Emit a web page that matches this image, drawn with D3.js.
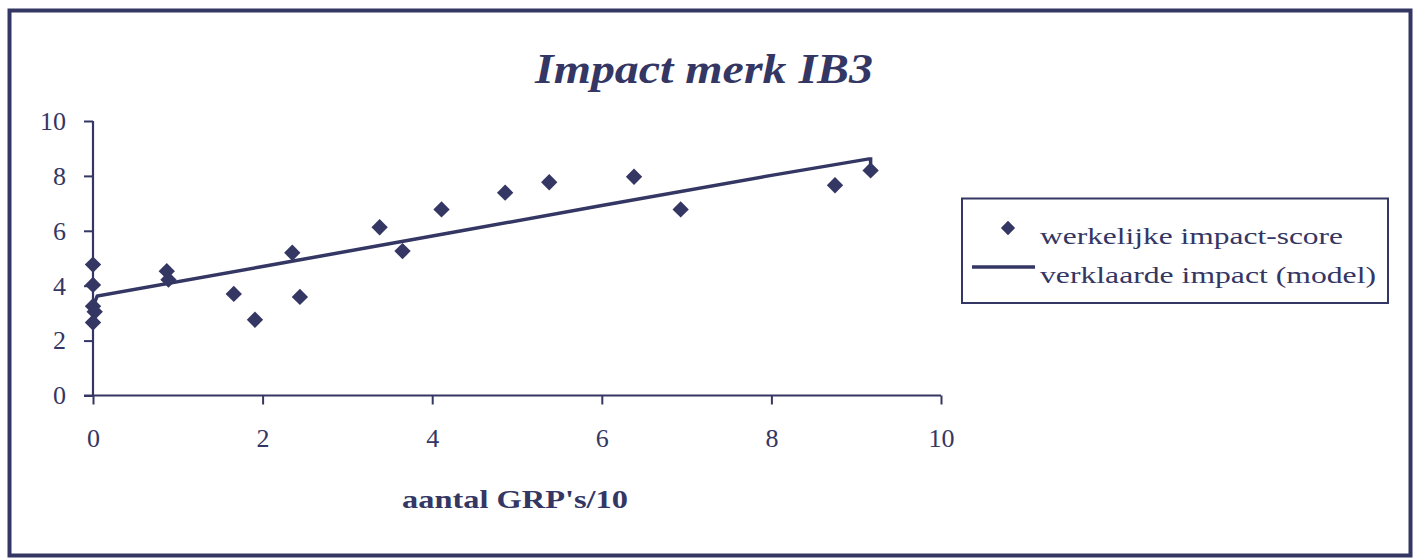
<!DOCTYPE html>
<html>
<head>
<meta charset="utf-8">
<script src="https://cdn.jsdelivr.net/npm/d3@7"></script>
<style>
  html, body { margin: 0; padding: 0; background: #fff; }
  svg { display: block; }
  text { font-family: "Liberation Serif", "Times New Roman", serif; fill: #343663; }
</style>
</head>
<body>
<svg id="chart" width="1413" height="558"></svg>
<script>
// ---- data ----
const grpX      = [0, 0, 0, 0.02, 0, 0.87, 0.89, 1.66, 1.91, 2.35, 2.44, 3.38, 3.65, 4.11, 4.86, 5.38, 6.38, 6.93, 8.75, 9.17];
const impactY   = [4.77, 4.03, 3.25, 3.05, 2.66, 4.53, 4.22, 3.70, 2.76, 5.20, 3.59, 6.13, 5.26, 6.78, 7.39, 7.77, 7.97, 6.78, 7.66, 8.20];
const modelX    = [0, 0.05, 2.0, 4.33, 6.0, 8.0, 9.15, 9.17, 9.17];
const modelY    = [3.25, 3.62, 4.70, 5.99, 6.92, 8.02, 8.62, 8.62, 8.42];
const xTicks    = [0, 2, 4, 6, 8, 10];
const yTicks    = [0, 2, 4, 6, 8, 10];
const titleText = "Impact merk IB3";
const xLabel    = "aantal GRP's/10";
const legendLabels = ["werkelijke impact-score", "verklaarde impact (model)"];

const navy = "#343663";
const svg = d3.select("#chart");

// outer frame
svg.append("rect").attr("x", 9.5).attr("y", 10.5).attr("width", 1401).attr("height", 545)
  .attr("fill", "#fff").attr("stroke", navy).attr("stroke-width", 4);

const x = d3.scaleLinear().domain([0, 10]).range([93, 941]);
const y = d3.scaleLinear().domain([0, 10]).range([395.5, 121]);

// title
svg.append("text").attr("x", 704).attr("y", 83).attr("text-anchor", "middle")
  .attr("font-size", 42).attr("font-weight", "bold").attr("font-style", "italic")
  .attr("textLength", 338).attr("lengthAdjust", "spacingAndGlyphs")
  .text(titleText);

// axes
const xAxis = svg.append("g").attr("transform", `translate(0,${y(0)})`)
  .call(d3.axisBottom(x).tickValues(xTicks).tickSize(9).tickPadding(24).tickFormat(d3.format("d")));
const yAxis = svg.append("g").attr("transform", `translate(${x(0)},0)`)
  .call(d3.axisLeft(y).tickValues(yTicks).tickSize(9).tickPadding(18).tickFormat(d3.format("d")));
[xAxis, yAxis].forEach(g => {
  g.select(".domain").attr("stroke", navy).attr("stroke-width", 2.2);
  g.selectAll(".tick line").attr("stroke", navy).attr("stroke-width", 2);
  g.selectAll(".tick text").attr("font-size", 26).attr("fill", navy)
    .style("font-family", '"Liberation Serif", serif');
});
xAxis.select(".domain").attr("d", `M${x(0) - 9},0H${x(10)}`);
yAxis.select(".domain").attr("d", `M0,${y(10)}V${y(0)}`);

// x label
svg.append("text").attr("x", 515).attr("y", 508).attr("text-anchor", "middle")
  .attr("font-size", 26).attr("font-weight", "bold")
  .attr("textLength", 226).attr("lengthAdjust", "spacingAndGlyphs")
  .text(xLabel);

// model line
const modelPts = modelX.map((d, i) => [d, modelY[i]]);
svg.append("path").datum(modelPts)
  .attr("d", d3.line().x(d => x(d[0])).y(d => y(d[1])))
  .attr("fill", "none").attr("stroke", navy).attr("stroke-width", 3.5)
  .attr("stroke-linejoin", "miter");

// points
const diamond = d3.symbol().type(d3.symbolDiamond2).size(170);
svg.append("g").selectAll("path")
  .data(grpX.map((d, i) => [d, impactY[i]]))
  .join("path")
  .attr("transform", d => `translate(${x(d[0])},${y(d[1])})`)
  .attr("d", diamond)
  .attr("fill", navy);

// legend
const lg = svg.append("g");
lg.append("rect").attr("x", 962).attr("y", 198.5).attr("width", 426).attr("height", 104.5)
  .attr("fill", "#fff").attr("stroke", navy).attr("stroke-width", 2);
lg.append("path").attr("transform", "translate(1008,228)")
  .attr("d", d3.symbol().type(d3.symbolDiamond2).size(130)).attr("fill", navy);
lg.append("line").attr("x1", 972).attr("x2", 1035).attr("y1", 267).attr("y2", 267)
  .attr("stroke", navy).attr("stroke-width", 3.5);
lg.append("text").attr("x", 1040).attr("y", 244).attr("font-size", 23)
  .attr("textLength", 303).attr("lengthAdjust", "spacingAndGlyphs").text(legendLabels[0]);
lg.append("text").attr("x", 1040).attr("y", 283).attr("font-size", 23)
  .attr("textLength", 336).attr("lengthAdjust", "spacingAndGlyphs").text(legendLabels[1]);
</script>
</body>
</html>
